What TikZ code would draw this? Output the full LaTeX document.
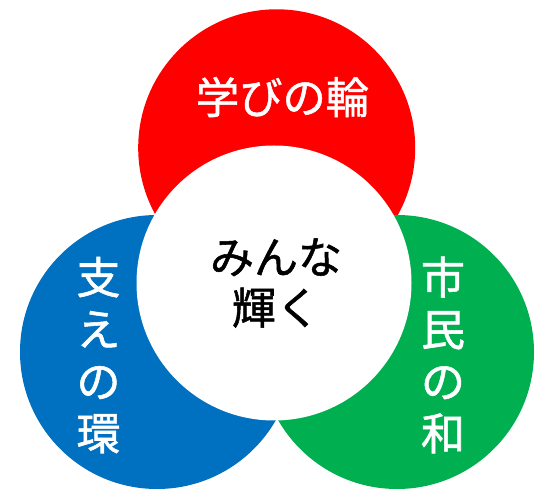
\documentclass[tikz,border=0pt]{standalone}
\usepackage{fontspec}
\newfontfamily\cjk[FakeBold=1.2]{Noto Sans CJK JP}
\tikzset{
  petal/.style={circle,minimum size=274*0.75pt,inner sep=0pt,draw=none},
  lab/.style={font=\cjk\fontsize{32.5}{36}\selectfont,text=white,inner sep=0pt},
  vlab/.style={font=\cjk\fontsize{33}{39}\selectfont,text=white,inner sep=0pt,align=center},
}
\begin{document}
\begin{tikzpicture}[x=0.75pt,y=-0.75pt]
\useasboundingbox (0,0) rectangle (539,491);
\fill[white] (0,0) rectangle (539,491);
\node[petal,minimum size=277*0.75pt,fill={rgb,255:red,255;green,0;blue,0}] (r) at (276.7,147.8) {};
\node[petal,fill={rgb,255:red,0;green,176;blue,80}] (g) at (397,352) {};
\node[petal,fill={rgb,255:red,0;green,112;blue,192}] (b) at (157,352) {};
\node[circle,fill=white,minimum size=275*0.75pt,inner sep=0pt] (c) at (274,283) {};
\node[lab] (t1) at (282.5,97) {学びの輪};
\node[vlab] (t2) at (98.5,355) {支\\え\\の\\環};
\node[vlab] (t3) at (443,355) {市\\民\\の\\和};
\node[font=\cjk\fontsize{33}{38}\selectfont,text=black,align=center,inner sep=0pt] (t0) at (276,283) {みんな\\輝く};
\end{tikzpicture}
\end{document}
